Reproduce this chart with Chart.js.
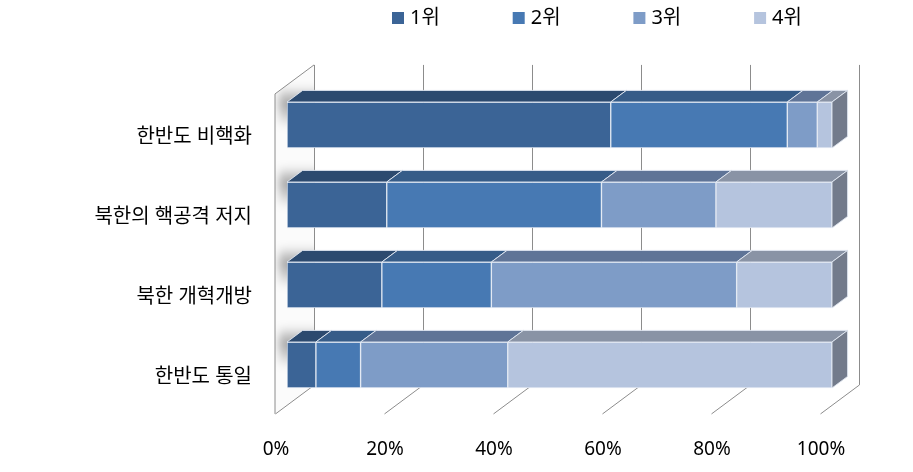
<!DOCTYPE html>
<html lang="ko">
<head>
<meta charset="UTF-8">
<title>순위 비교</title>
<script src="https://cdn.jsdelivr.net/npm/chart.js@4.4.1/dist/chart.umd.min.js"></script>
<style>
  body { margin: 0; background: #fff; }
  #wrap { width: 913px; height: 472px; }
</style>
</head>
<body>
<div id="wrap"><canvas id="chart" width="913" height="472"></canvas></div>
<script>
// data (percent of each row)
const categories = ['한반도 비핵화', '북한의 핵공격 저지', '북한 개혁개방', '한반도 통일'];
const seriesNames = ['1위', '2위', '3위', '4위'];
const rank1 = [59.4, 18.3, 17.4, 5.3];
const rank2 = [32.4, 39.4, 20.1, 8.2];
const rank3 = [5.5, 21.0, 45.0, 27.0];
const rank4 = [2.7, 21.3, 17.5, 59.5];
const xTicks = [0, 20, 40, 60, 80, 100];

const frontColors = ['#3B6496', '#4779B3', '#7E9CC7', '#B5C4DE'];
const topColors   = ['#2C4A6F', '#365C88', '#5F7497', '#8993A5'];
const sideColor   = '#737B8B';
const gridColor   = '#8c8c8c';

// oblique depth of the 3D box: front plane -> back plane
const DEPTH_X = 39, DEPTH_Y = 29;
const FRONT = 12 / 39;   // bars sit this far into the box
const BAR_DEPTH = 0.4;   // bar thickness as a share of the box depth

Chart.defaults.font.family = "'Noto Sans', 'Noto Sans CJK KR', sans-serif";
Chart.defaults.color = '#000';

const fx = -DEPTH_X * FRONT, fy = DEPTH_Y * FRONT;          // front plane offset
const bx = DEPTH_X * (1 - FRONT), by = -DEPTH_Y * (1 - FRONT); // back plane offset

const box3d = {
  id: 'box3d',
  beforeDatasetsDraw(chart) {
    const { ctx, chartArea: a, scales: { x } } = chart;
    const x0 = x.getPixelForValue(0);
    ctx.save();
    // left wall
    ctx.beginPath();
    ctx.moveTo(x0 + fx, a.top + fy);
    ctx.lineTo(x0 + bx, a.top + by);
    ctx.lineTo(x0 + bx, a.bottom + by);
    ctx.lineTo(x0 + fx, a.bottom + fy);
    ctx.closePath();
    ctx.fillStyle = '#fbfbfb';
    ctx.fill();
    // soft shadows of the bars on the wall
    ctx.save();
    ctx.clip();
    ctx.filter = 'blur(4px)';
    chart.getDatasetMeta(0).data.forEach(el => {
      const top = el.y - el.height / 2;
      const g = ctx.createLinearGradient(0, top - 16, 0, top + 26);
      g.addColorStop(0, 'rgba(0,0,0,0)');
      g.addColorStop(0.4, 'rgba(0,0,0,0.35)');
      g.addColorStop(1, 'rgba(0,0,0,0)');
      ctx.fillStyle = g;
      ctx.fillRect(x0 + fx + 4, top - 16, 40, 42);
    });
    ctx.restore();

    ctx.strokeStyle = gridColor;
    ctx.lineWidth = 1;
    ctx.beginPath();
    ctx.moveTo(x0 + fx, a.bottom + fy);
    ctx.lineTo(x0 + fx, a.top + fy);
    ctx.lineTo(x0 + bx, a.top + by);
    ctx.stroke();
    // grid lines on back wall and floor
    x.ticks.forEach(t => {
      const px = Math.round(x.getPixelForValue(t.value)) + 0.5;
      ctx.beginPath();
      ctx.moveTo(px + bx, a.top + by);
      ctx.lineTo(px + bx, a.bottom + by);
      ctx.lineTo(px + fx, a.bottom + fy);
      ctx.stroke();
    });
    ctx.restore();
  },
  afterDatasetsDraw(chart) {
    const { ctx } = chart;
    const dx = DEPTH_X * BAR_DEPTH, dy = DEPTH_Y * BAR_DEPTH;
    const last = chart.data.datasets.length - 1;
    ctx.save();
    ctx.lineWidth = 1;
    ctx.strokeStyle = 'rgba(225,232,242,0.9)';
    chart.data.datasets.forEach((ds, i) => {
      chart.getDatasetMeta(i).data.forEach(el => {
        const top = el.y - el.height / 2, bottom = el.y + el.height / 2;
        const l = Math.min(el.base, el.x), r = Math.max(el.base, el.x);
        ctx.beginPath();
        ctx.moveTo(l, top);
        ctx.lineTo(l + dx, top - dy);
        ctx.lineTo(r + dx, top - dy);
        ctx.lineTo(r, top);
        ctx.closePath();
        ctx.fillStyle = topColors[i];
        ctx.fill();
        ctx.stroke();
        if (i === last) {
          ctx.beginPath();
          ctx.moveTo(r, top);
          ctx.lineTo(r + dx, top - dy);
          ctx.lineTo(r + dx, bottom - dy);
          ctx.lineTo(r, bottom);
          ctx.closePath();
          ctx.fillStyle = sideColor;
          ctx.fill();
          ctx.stroke();
        }
      });
    });
    ctx.restore();
  },
  afterDraw(chart) {
    // legend
    const { ctx } = chart;
    ctx.save();
    ctx.font = "20px 'Noto Sans', 'Noto Sans CJK KR', sans-serif";
    ctx.textBaseline = 'middle';
    chart.data.datasets.forEach((ds, i) => {
      const lx = 392 + i * 120.7;
      ctx.fillStyle = ds.backgroundColor;
      ctx.fillRect(lx, 12, 12, 12);
      ctx.fillStyle = '#000';
      ctx.fillText(ds.label, lx + 18, 18);
    });
    ctx.restore();
  }
};

const series = [rank1, rank2, rank3, rank4];

new Chart(document.getElementById('chart'), {
  type: 'bar',
  data: {
    labels: categories,
    datasets: series.map((d, i) => ({
      label: seriesNames[i],
      data: d,
      backgroundColor: frontColors[i],
      borderColor: 'rgba(225,232,242,0.9)',
      borderWidth: 1,
      borderSkipped: false,
      barThickness: 46
    }))
  },
  options: {
    indexAxis: 'y',
    responsive: false,
    animation: false,
    layout: { padding: { top: 85, right: 81, left: 0, bottom: 0 } },
    plugins: { legend: { display: false }, tooltip: { enabled: false } },
    scales: {
      x: {
        stacked: true,
        min: 0,
        max: 100,
        afterBuildTicks: s => { s.ticks = xTicks.map(v => ({ value: v })); },
        afterFit: s => { s.height = 67; },
        grid: { display: false, drawTicks: false },
        border: { display: false },
        ticks: {
          callback: v => v + '%',
          font: { size: 19 },
          padding: 33,
          labelOffset: -11,
          maxRotation: 0
        }
      },
      y: {
        stacked: true,
        afterFit: s => { s.width = 287; },
        grid: { display: false, drawTicks: false },
        border: { display: false },
        ticks: {
          font: { size: 20 },
          padding: 35,
          labelOffset: 12
        }
      }
    }
  },
  plugins: [box3d]
});
</script>
</body>
</html>
